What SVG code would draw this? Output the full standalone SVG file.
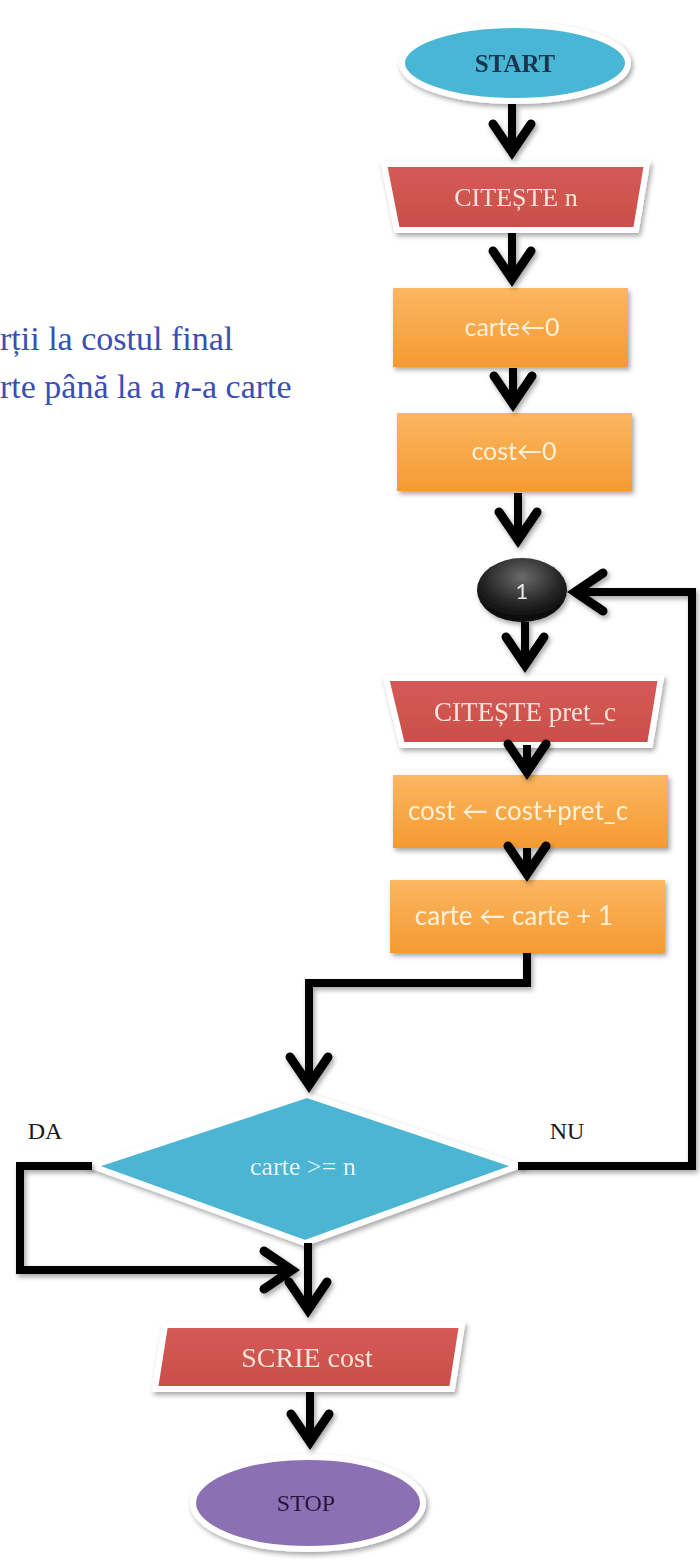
<svg xmlns="http://www.w3.org/2000/svg" width="700" height="1560" viewBox="0 0 700 1560">
  <defs>
    <style>
      .lbl-serif { font-family: "Liberation Serif", "DejaVu Serif", serif; text-anchor: middle; }
      .lbl-sans { font-family: Lato, "Liberation Sans", sans-serif; text-anchor: middle; }
      .halo { stroke: #ffffff; stroke-width: 6; stroke-linejoin: miter; }
      .wire { fill: none; stroke: #000000; stroke-width: 8; stroke-linejoin: miter; stroke-linecap: butt; marker-end: url(#chevron); }
      .io { fill: url(#gRed); }
      .proc { fill: url(#gOrange); }
      .io-text { fill: #fbe4dc; }
      .proc-text { fill: #fff1d9; }
      .branch { fill: #1a1a1a; font-family: "Liberation Serif", serif; text-anchor: middle; }
      .note { fill: #3a4fb6; font-family: "Liberation Serif", "Times New Roman", serif; }
    </style>
    <linearGradient id="gOrange" x1="0" y1="0" x2="0" y2="1">
      <stop offset="0" stop-color="#fbb761"/>
      <stop offset="1" stop-color="#f59a32"/>
    </linearGradient>
    <linearGradient id="gRed" x1="0" y1="0" x2="0" y2="1">
      <stop offset="0" stop-color="#d65b56"/>
      <stop offset="1" stop-color="#c94e4a"/>
    </linearGradient>
    <radialGradient id="gDark" cx="0.5" cy="0.3" r="0.7">
      <stop offset="0" stop-color="#6a6a6a"/>
      <stop offset="0.6" stop-color="#262626"/>
      <stop offset="1" stop-color="#050505"/>
    </radialGradient>
    <filter id="shadow" x="-10%" y="-10%" width="130%" height="140%">
      <feDropShadow dx="2" dy="3" stdDeviation="2.5" flood-color="#000000" flood-opacity="0.35"/>
    </filter>
    <marker id="chevron" markerUnits="userSpaceOnUse" viewBox="-36 -26 50 52" markerWidth="50" markerHeight="52" refX="0" refY="0" orient="auto" overflow="visible">
      <path d="M-26,-19 L2,0 L-26,19" fill="none" stroke="#000000" stroke-width="9" stroke-linejoin="miter" stroke-linecap="round"/>
    </marker>
  </defs>

  <rect width="700" height="1560" fill="#ffffff"/>

  <!-- side note, cut off at the left edge -->
  <g id="note" font-size="34">
    <text class="note" x="0" y="350">rții la costul final</text>
    <text class="note" x="0" y="398">rte până la a <tspan font-style="italic">n</tspan>-a carte</text>
  </g>

  <g id="start" filter="url(#shadow)">
    <ellipse class="halo" cx="515" cy="63" rx="113" ry="38" fill="#4ab6d6"/>
    <text class="lbl-serif" x="515" y="72" font-size="25" font-weight="bold" fill="#1d3550">START</text>
  </g>

  <g id="read-n" filter="url(#shadow)">
    <polygon class="halo io" points="384,164 647,164 636,230 397,230"/>
    <text class="lbl-serif io-text" x="516" y="206" font-size="26">CITEȘTE n</text>
  </g>

  <g id="init-carte" filter="url(#shadow)">
    <rect class="proc" x="393" y="288" width="235" height="79"/>
    <text class="lbl-sans proc-text" x="512" y="336" font-size="25">carte←0</text>
  </g>

  <g id="init-cost" filter="url(#shadow)">
    <rect class="proc" x="397" y="413" width="235" height="78"/>
    <text class="lbl-sans proc-text" x="514" y="460" font-size="25">cost←0</text>
  </g>

  <g id="connector-1" filter="url(#shadow)">
    <ellipse cx="522" cy="590" rx="45" ry="32" fill="url(#gDark)"/>
    <text class="lbl-sans" x="522" y="599" font-size="22" fill="#e8e8e8">1</text>
  </g>

  <g id="read-price" filter="url(#shadow)">
    <polygon class="halo io" points="386,678 661,678 650,745 402,745"/>
    <text class="lbl-serif io-text" x="525" y="721" font-size="27">CITEȘTE pret_c</text>
  </g>

  <g id="add-cost" filter="url(#shadow)">
    <rect class="proc" x="393" y="775" width="275" height="73"/>
    <text class="lbl-sans proc-text" x="518" y="820" font-size="26">cost ← cost+pret_c</text>
  </g>

  <g id="inc-carte" filter="url(#shadow)">
    <rect class="proc" x="390" y="880" width="275" height="73"/>
    <text class="lbl-sans proc-text" x="514" y="925" font-size="26">carte ← carte + 1</text>
  </g>

  <g id="test" filter="url(#shadow)">
    <polygon class="halo" points="307,1095 518,1166 305,1243 92,1166" fill="#4bb5d3"/>
    <text class="lbl-serif" x="303" y="1175" font-size="26" fill="#e6f6fb">carte &gt;= n</text>
  </g>

  <g id="labels" font-size="24">
    <text class="branch" x="45" y="1139">DA</text>
    <text class="branch" x="567" y="1139">NU</text>
  </g>

  <g id="write-cost" filter="url(#shadow)">
    <polygon class="halo io" points="165,1325 462,1325 452,1389 155,1389"/>
    <text class="lbl-serif io-text" x="307" y="1367" font-size="28">SCRIE cost</text>
  </g>

  <g id="stop" filter="url(#shadow)">
    <ellipse class="halo" cx="308" cy="1503" rx="115" ry="46" fill="#8b6fb4"/>
    <text class="lbl-serif" x="306" y="1511" font-size="24" fill="#251838">STOP</text>
  </g>

  <g id="connectors" filter="url(#shadow)">
    <path class="wire" d="M512,104 V150"/>
    <path class="wire" d="M512,233 V277"/>
    <path class="wire" d="M513,368 V402"/>
    <path class="wire" d="M518,493 V538"/>
    <path class="wire" d="M525,622 V663"/>
    <path class="wire" d="M527,745 V770"/>
    <path class="wire" d="M527,848 V872"/>
    <path class="wire" d="M527,953 V983 H309 V1083"/>
    <path class="wire" d="M518,1166 H692 V592 H577"/>
    <path class="wire" d="M92,1166 H20 V1270 H290"/>
    <path class="wire" d="M308,1243 V1308"/>
    <path class="wire" d="M310,1392 V1440"/>
  </g>
</svg>
